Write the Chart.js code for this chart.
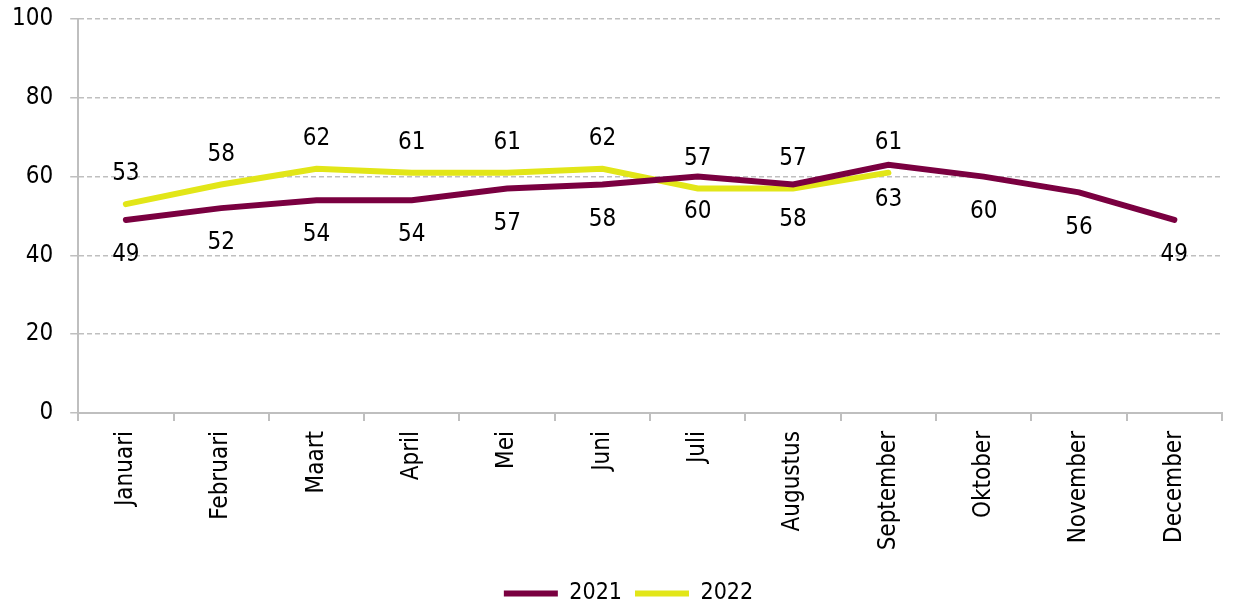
<!DOCTYPE html>
<html><head><meta charset="utf-8">
<script src="https://cdn.jsdelivr.net/npm/chart.js@4/dist/chart.umd.min.js"></script>
<style>html,body{margin:0;padding:0;background:#fff}#wrap{width:1241px;height:602px}</style>
</head><body><div id="wrap"><canvas id="c" width="1241" height="602"></canvas></div>
<script>
const months = ["Januari","Februari","Maart","April","Mei","Juni","Juli","Augustus","September","Oktober","November","December"];
const values2021 = [49,52,54,54,57,58,60,58,63,60,56,49];
const values2022 = [53,58,62,61,61,62,57,57,61,null,null,null];
const yTicks = [0,20,40,60,80,100];

const FONT = "DejaVu Sans Condensed";
const labelPlugin = {
  id: 'lbl',
  afterDatasetsDraw(chart) {
    const ctx = chart.ctx;
    ctx.save();
    ctx.font = "24px '" + FONT + "'";
    ctx.fillStyle = '#000';
    ctx.textAlign = 'center';
    ctx.textBaseline = 'middle';
    chart.data.datasets.forEach((ds, i) => {
      const meta = chart.getDatasetMeta(i);
      const off = i === 0 ? 35 : -30;
      meta.data.forEach((p, j) => {
        const v = ds.data[j];
        if (v === null || v === undefined) return;
        ctx.fillText(String(v), p.x, p.y + off);
      });
    });
    ctx.restore();
  }
};
const legendShift = {
  id: 'legendShift',
  afterLayout(chart) {
    const lg = chart.legend;
    if (!lg) return;
    lg.left += 20; lg.right += 20;
    lg.top += 13; lg.bottom += 13;
  }
};

new Chart(document.getElementById('c'), {
  type: 'line',
  data: {
    labels: months,
    datasets: [
      {label: '2021', data: values2021, borderColor: '#7a0040', backgroundColor: '#7a0040', borderWidth: 6, pointRadius: 0, tension: 0, borderCapStyle: 'round'},
      {label: '2022', data: values2022, borderColor: '#e2e618', backgroundColor: '#e2e618', borderWidth: 6, pointRadius: 0, tension: 0, borderCapStyle: 'round'}
    ]
  },
  options: {
    responsive: false,
    animation: false,
    layout: {padding: {left: -5, right: 19, top: 19, bottom: 0}},
    plugins: {
      legend: {
        position: 'bottom',
        labels: {
          usePointStyle: true, pointStyle: 'line', pointStyleWidth: 54,
          font: {family: FONT, size: 23}, color: '#000', padding: 13, boxHeight: 6
        }
      },
      tooltip: {enabled: false}
    },
    scales: {
      x: {
        offset: true,
        grid: {offset: true, drawOnChartArea: false, tickLength: 8, color: '#bfbfbf', lineWidth: 2},
        border: {color: '#bfbfbf', width: 2},
        ticks: {minRotation: 90, maxRotation: 90, color: '#000', font: {family: FONT, size: 24}, padding: 10, autoSkip: false},
        afterFit(s) { s.height = 143; }
      },
      y: {
        min: 0, max: 100,
        afterBuildTicks(s) { s.ticks = yTicks.map(v => ({value: v})); },
        afterFit(s) { s.paddingTop = 0; s.paddingBottom = 0; },
        grid: {color: '#bfbfbf', lineWidth: 1.5, tickLength: 8},
        border: {color: '#bfbfbf', width: 2, dash: [5, 3]},
        ticks: {color: '#000', font: {family: FONT, size: 24}, padding: 17}
      }
    }
  },
  plugins: [labelPlugin, legendShift]
});
</script></body></html>
